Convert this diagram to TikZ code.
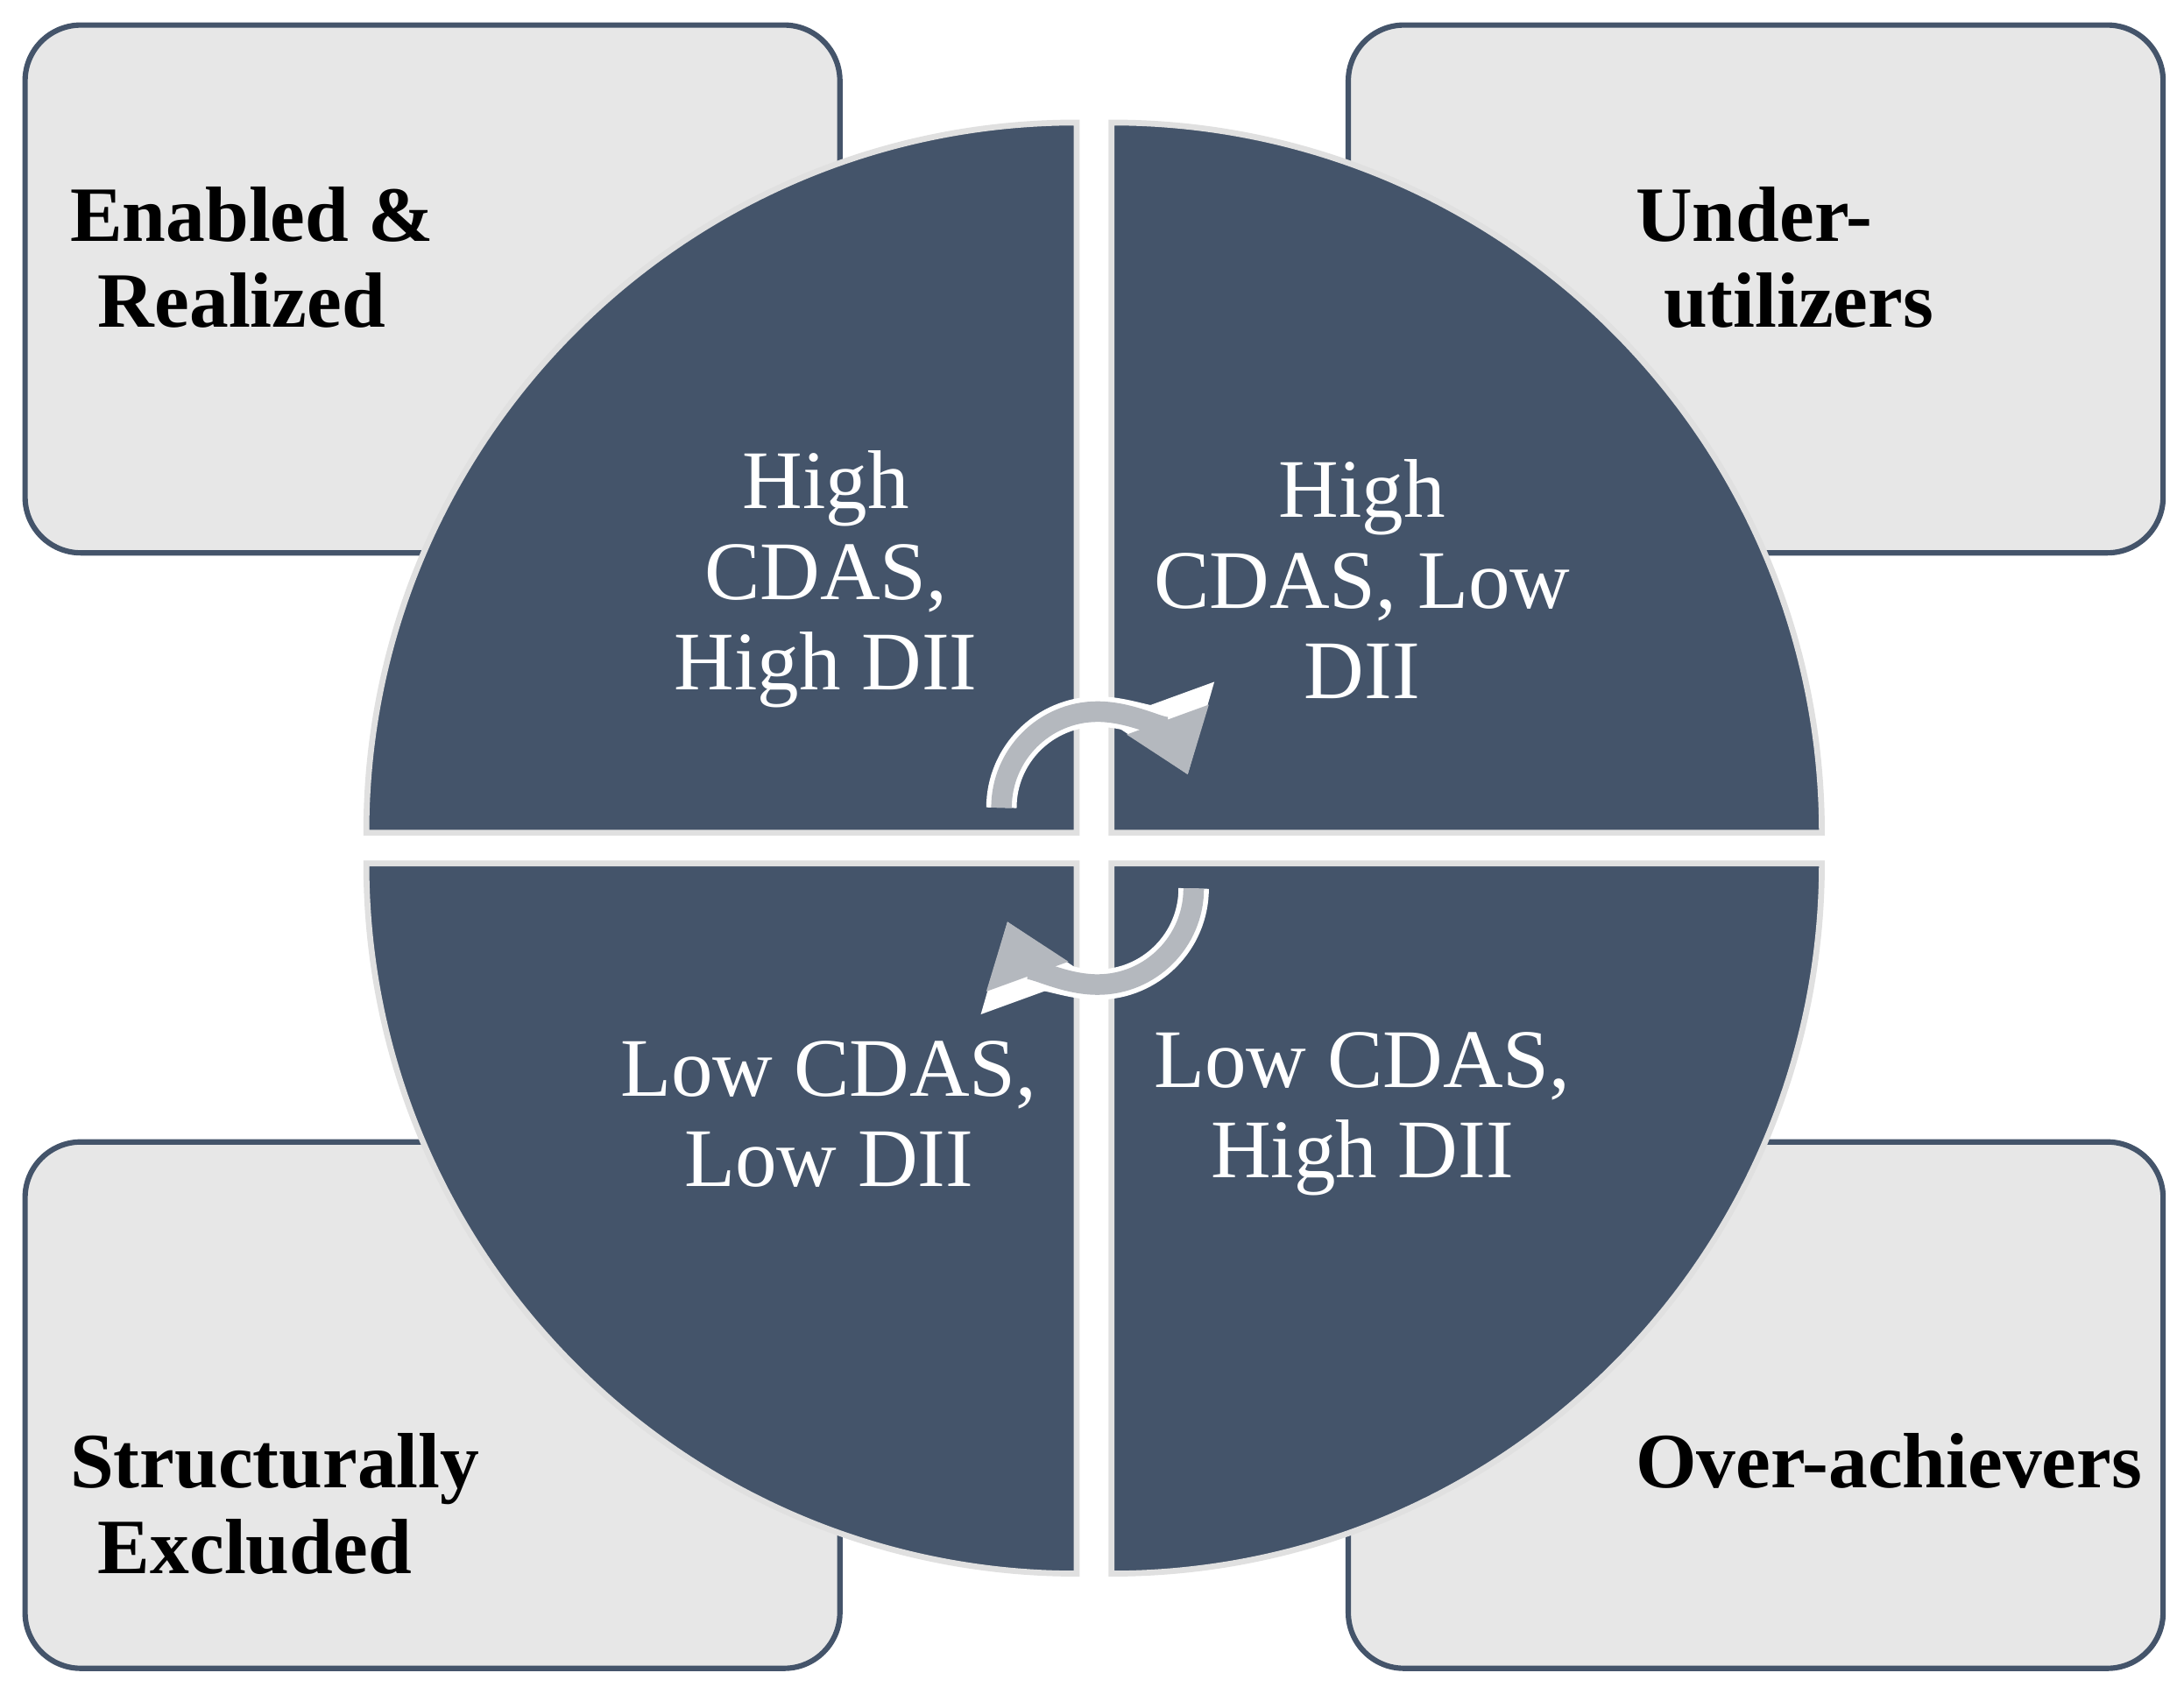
\documentclass[tikz,border=0pt]{standalone}
\usepackage{fontspec}
\setmainfont{Liberation Serif}
\usetikzlibrary{arrows.meta}
\definecolor{navy}{HTML}{44546A}
\definecolor{boxg}{HTML}{E7E7E7}
\definecolor{arrg}{HTML}{B4B8BE}
\begin{document}
\begin{tikzpicture}[x=0.01cm,y=-0.01cm,
  lbox/.style={fill=boxg,draw=navy,line width=1.1pt,rounded corners=0.4cm},
  quad/.style={fill=navy,draw=black!12,line width=1.2pt},
  qtext/.style={text=white,align=center,font=\fontsize{17}{18.5}\selectfont},
  ltext/.style={anchor=north west,align=left,font=\fontsize{16}{17.5}\selectfont\bfseries}]
\useasboundingbox (0,0) rectangle (1568,1216);
\fill[white] (0,0) rectangle (1568,1216);
% boxes
\draw[lbox] (18,18) rectangle (603,397);
\draw[lbox] (968,18) rectangle (1553,397);
\draw[lbox] (18,820) rectangle (603,1198);
\draw[lbox] (968,820) rectangle (1553,1198);
% quadrants
\draw[quad] (773,598) -- (263,598) arc (180:270:510) -- cycle;
\draw[quad] (798,598) -- (798,88) arc (270:360:510) -- cycle;
\draw[quad] (773,620) -- (773,1130) arc (90:180:510) -- cycle;
\draw[quad] (798,620) -- (1308,620) arc (0:90:510) -- cycle;
% cycle arrows
\draw[white,line width=6.2pt,-{Triangle[length=16pt,width=22pt]}] (719,580) arc (180:340:69);
\draw[arrg,line width=4.2pt,-{Triangle[length=12pt,width=17pt]}] (719,580) arc (180:340:69);
\draw[white,line width=6.2pt,-{Triangle[length=16pt,width=22pt]}] (857,638) arc (0:160:69);
\draw[arrg,line width=4.2pt,-{Triangle[length=12pt,width=17pt]}] (857,638) arc (0:160:69);
% quadrant texts
\node[qtext] (q1) at (593,416) {High\\CDAS,\\High DII};
\node[qtext] (q2) at (978,416) {High\\CDAS, Low\\DII};
\node[qtext] (q3) at (595,800) {Low CDAS,\\Low DII};
\node[qtext] (q4) at (978,800) {Low CDAS,\\High DII};
% labels
\node[ltext] (l1) at (38,122) {Enabled \&\\\hspace*{0.2cm}Realized};
\node[ltext] (l2) at (1162,122) {Under-\\\hspace*{0.2cm}utilizers};
\node[ltext] (l3) at (38,1017) {Structurally\\\hspace*{0.2cm}Excluded};
\node[ltext] (l4) at (1162,1017) {Over-achievers};
\end{tikzpicture}
\end{document}
